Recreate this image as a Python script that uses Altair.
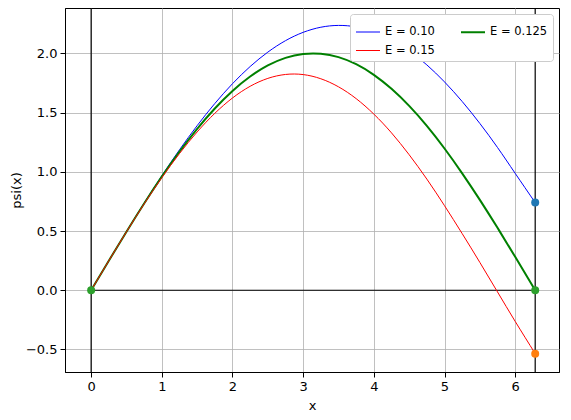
import altair as alt
import pandas as pd

# x positions
xs = [0.0, 0.25, 0.5, 0.75, 1.0, 1.25, 1.5, 1.75, 2.0, 2.25, 2.5, 2.75, 3.0,
      3.25, 3.5, 3.75, 4.0, 4.25, 4.5, 4.75, 5.0, 5.25, 5.5, 5.75, 6.0, 6.2832]

psi_e010 = [0.0, 0.2495, 0.4958, 0.7361, 0.9669, 1.1858, 1.3900, 1.5767, 1.7439,
            1.8890, 2.0105, 2.1073, 2.1775, 2.2207, 2.2360, 2.2233, 2.1828, 2.1158,
            2.0219, 1.9027, 1.7591, 1.5937, 1.4083, 1.2055, 0.9872, 0.7400]
psi_e0125 = [0.0, 0.2495, 0.4948, 0.7326, 0.9589, 1.1702, 1.3633, 1.5350, 1.6829,
             1.8045, 1.8980, 1.9618, 1.9950, 1.9969, 1.9680, 1.9083, 1.8186, 1.7004,
             1.5563, 1.3878, 1.1969, 0.9874, 0.7633, 0.5272, 0.2822, 0.0]
psi_e015 = [0.0, 0.2492, 0.4938, 0.7292, 0.9507, 1.1542, 1.3368, 1.4940, 1.6233,
            1.7222, 1.7888, 1.8219, 1.8210, 1.7857, 1.7176, 1.6178, 1.4871, 1.3288,
            1.1440, 0.9386, 0.7142, 0.4783, 0.2352, -0.0141, -0.2627, -0.5350]

# legend order (column-major fill gives: col1 0.10, 0.15 ; col2 0.125)
series_names = ["E = 0.10", "E = 0.15", "E = 0.125"]
series_colors = ["blue", "red", "green"]
series_widths = [1, 1, 2]

point_x = [0.0, 6.2832, 6.2832, 6.2832]
point_y = [0.0, 0.7400, -0.5350, 0.0]
point_colors = ["#2ca02c", "#1f77b4", "#ff7f0e", "#2ca02c"]

vline_x = [0.0, 6.2832]
hline = {"x": [0.0], "x2": [6.2832], "y": [0.0]}

x_ticks = [0, 1, 2, 3, 4, 5, 6]
y_ticks = [-0.5, 0.0, 0.5, 1.0, 1.5, 2.0]
x_domain = [-0.37, 6.62]
y_domain = [-0.69, 2.383]

rows = []
for name, vals in zip(["E = 0.10", "E = 0.125", "E = 0.15"], [psi_e010, psi_e0125, psi_e015]):
    for xv, yv in zip(xs, vals):
        rows.append({"series": name, "x": xv, "psi": yv})
df = pd.DataFrame(rows)

xscale = alt.Scale(domain=x_domain, nice=False, zero=False)
yscale = alt.Scale(domain=y_domain, nice=False, zero=False)
xaxis = alt.Axis(values=x_ticks, title="x", format="d", titlePadding=6)
yaxis = alt.Axis(values=y_ticks, title="psi(x)", format=".1f", titlePadding=2)


def make_legend():
    return alt.Legend(
        title=None, orient="top-right", columns=2, direction="vertical",
        symbolType="stroke", symbolSize=576,
        labelFontSize=11.5, columnPadding=22, rowPadding=-5,
        padding=5, offset=6, fillColor="white",
        strokeColor="#cccccc", cornerRadius=3, labelColor="black",
    )


lines = alt.Chart(df).mark_line(interpolate="natural").encode(
    x=alt.X("x:Q", scale=xscale, axis=xaxis),
    y=alt.Y("psi:Q", scale=yscale, axis=yaxis),
    color=alt.Color("series:N", scale=alt.Scale(domain=series_names, range=series_colors),
                    legend=make_legend()),
    strokeWidth=alt.StrokeWidth("series:N",
                                scale=alt.Scale(type="ordinal", domain=series_names, range=series_widths),
                                legend=make_legend()),
)

vlines = alt.Chart(pd.DataFrame({"x": vline_x})).mark_rule(color="black", strokeWidth=1.2).encode(
    x=alt.X("x:Q", scale=xscale),
)
hl = alt.Chart(pd.DataFrame(hline)).mark_rule(color="black", strokeWidth=1.2).encode(
    x=alt.X("x:Q", scale=xscale), x2="x2:Q", y=alt.Y("y:Q", scale=yscale),
)

points = alt.Chart(pd.DataFrame({"x": point_x, "y": point_y, "c": point_colors,
                                 "o": list(range(len(point_x)))})).mark_point(
    size=64, filled=True, opacity=1, shape="circle", strokeWidth=0
).encode(
    x=alt.X("x:Q", scale=xscale),
    y=alt.Y("y:Q", scale=yscale),
    fill=alt.Fill("c:N", scale=None, legend=None),
    order="o:Q",
)

chart = alt.layer(vlines, hl, lines, points).properties(
    width=494, height=364,
    autosize=alt.AutoSizeParams(type="none"),
    padding={"left": 57, "top": 0, "right": 4, "bottom": 44},
).configure_view(
    stroke="black", strokeWidth=1
).configure_axis(
    grid=True, gridColor="#b0b0b0", gridWidth=0.8,
    domainColor="black", tickColor="black", tickSize=5, labelPadding=3,
    labelFontSize=13, labelColor="black", labelFont="DejaVu Sans",
    titleFontSize=13, titleFontWeight="normal", titleFont="DejaVu Sans", titleColor="black",
).configure_legend(
    labelFont="DejaVu Sans"
)

chart.save("out.html", embed_options={"renderer": "svg", "actions": False})
